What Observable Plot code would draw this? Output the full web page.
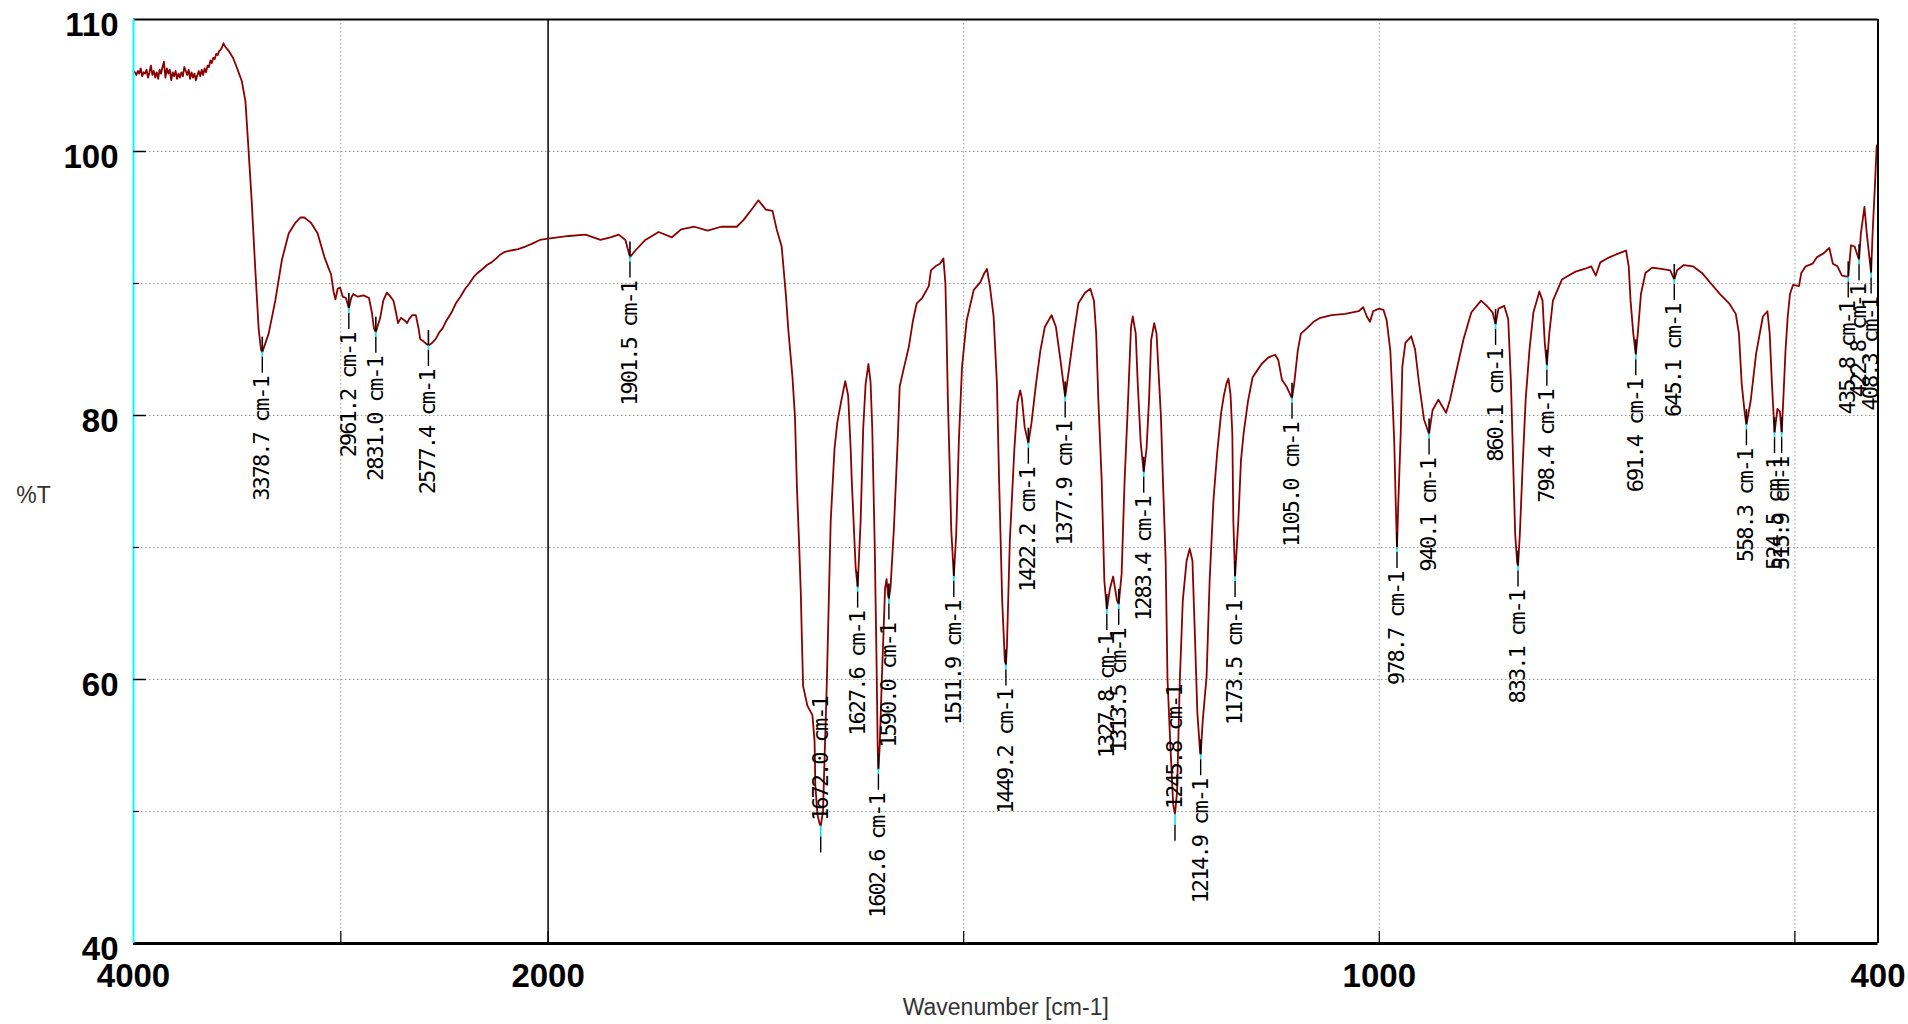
<!DOCTYPE html>
<html>
<head>
<meta charset="utf-8">
<script src="https://cdn.jsdelivr.net/npm/d3@7"></script>
<script src="https://cdn.jsdelivr.net/npm/@observablehq/plot@0.6"></script>
<style>
html, body { margin: 0; padding: 0; background: #fff; }
g[font-family="DejaVu Sans Mono"] text { letter-spacing: -2px; }
</style>
</head>
<body>
<div id="chart"></div>
<script>
// ---- spectrum (wavenumber cm-1, %T) ----
const wavenumber = [
  4000, 3993, 3986, 3979, 3972, 3965, 3958, 3951, 3944, 3937, 3930, 3923, 3916, 3909, 3902, 3895, 3888, 3881, 3874, 3867,
  3860, 3853, 3846, 3839, 3832, 3825, 3818, 3811, 3804, 3797, 3790, 3783, 3776, 3769, 3762, 3755, 3748, 3741, 3734, 3727,
  3720, 3713, 3706, 3699, 3692, 3685, 3678, 3671, 3664, 3657, 3650, 3643, 3636, 3629, 3622, 3615, 3608, 3601, 3594, 3587,
  3580, 3573, 3566, 3560, 3555,
  3540, 3520, 3500, 3477, 3460, 3445, 3430,
  3413, 3396, 3385, 3378.7, 3370, 3348, 3316, 3284, 3251, 3219, 3195, 3176, 3160, 3144, 3112, 3079, 3060, 3047, 3035, 3026,
  3015, 3004, 2990, 2975, 2961.2, 2950, 2940, 2918, 2890, 2864, 2850, 2840, 2831.0, 2820, 2810, 2795, 2778, 2760, 2746, 2735,
  2724, 2710, 2692, 2680, 2671, 2655, 2638, 2625, 2617, 2600, 2585, 2577.4, 2560, 2542, 2525, 2509, 2490, 2466, 2445, 2423,
  2400, 2380, 2359, 2340, 2316, 2295, 2273, 2250, 2230, 2208, 2180, 2144, 2110, 2079, 2040, 2000, 1975, 1955, 1937, 1925,
  1915, 1907, 1901.5, 1895, 1883, 1867, 1851, 1840, 1824, 1808, 1792, 1773, 1765, 1754, 1747, 1738, 1730, 1725, 1719, 1714,
  1711, 1706, 1703, 1700.6, 1697.8, 1696, 1694.6, 1693.2, 1688, 1682, 1679.4, 1678.5, 1676, 1673.5, 1672.0, 1669.3, 1664.6, 1662.3, 1660, 1655.4,
  1652, 1647, 1642.5, 1639, 1636, 1634.7, 1630, 1627.6, 1624, 1620.9, 1618, 1614.6, 1612, 1610, 1607, 1605, 1603.5, 1602.6, 1601, 1598.5,
  1596.5, 1594.6, 1592.8, 1591, 1590.0, 1588, 1584, 1579.4, 1577, 1571.6, 1566, 1561, 1556.5, 1550, 1542, 1539.4, 1534, 1528.6, 1524.4, 1522,
  1520.6, 1519, 1516.8, 1515, 1511.9, 1509, 1505.8, 1503.5, 1502, 1496.4, 1488, 1480, 1475, 1472, 1468.5, 1464, 1460, 1457.4, 1453.7, 1450.5,
  1449.2, 1448, 1444.5, 1439, 1435.3, 1432, 1430, 1426.6, 1422.2, 1418.5, 1413, 1407.8, 1402.4, 1394.3, 1389, 1383.6, 1377.9, 1374, 1367.5, 1362,
  1354, 1347.6, 1343.3, 1340.6, 1338, 1334, 1330.8, 1327.8, 1324, 1320.2, 1315.6, 1313.5, 1310, 1306.4, 1303, 1298.7, 1296.6, 1293, 1290.6, 1287,
  1283.4, 1280, 1277, 1274.5, 1270.8, 1268, 1262.7, 1260.3, 1257, 1254.8, 1251, 1247.9, 1245.8, 1243.3, 1240, 1236.4, 1231.8, 1228.1, 1224.8, 1221.6,
  1218.9, 1215.6, 1214.9, 1212.4, 1207.8, 1204.1, 1199.5, 1195, 1190.3, 1187, 1184, 1181.5, 1179, 1176.8, 1175.6, 1173.5, 1169.6, 1166.4, 1163.3, 1157.9,
  1152.4, 1147, 1141.6, 1133.4, 1125.3, 1121.5, 1117.1, 1111.7, 1105.0, 1102.4, 1098.1, 1094.3, 1087.2, 1079.1, 1071, 1057.3, 1041, 1024.8, 1019.3, 1015,
  1011.2, 1007.4, 1000.3, 994.9, 991.1, 986.7, 984, 982, 980.3, 978.7, 977, 974.2, 972.3, 968.6, 961.6, 956.9, 952.3, 946.2, 940.1, 935.9,
  928.9, 924.3, 919.6, 914.9, 907.9, 898.6, 889.3, 877.6, 870.6, 863.6, 860.1, 856.6, 849.6, 844.9, 841.6, 838.8, 836.5, 834.2, 833.1, 830.9,
  827.6, 823.9, 819.3, 814.6, 810, 807.4, 803.6, 800.9, 798.4, 795.5, 791.1, 785.7, 780.3, 772.1, 763.9, 753.1, 745, 739.5, 734.1, 725.9,
  715.1, 707, 703.1, 699.9, 697.7, 694.4, 691.4, 689, 685.2, 679.8, 671.6, 660.7, 649.9, 645.1, 641.7, 633.6, 622.7, 611.8, 601, 590.1,
  579.2, 571.1, 567.3, 564, 560.2, 558.3, 553.2, 546.6, 538.5, 533, 530.3, 527.6, 524.5, 521, 518, 515.9, 514, 511.3, 508.6, 505.9,
  502.1, 495, 492.3, 486.9, 478.7, 473.3, 465.1, 458.6, 454.3, 448.8, 443.4, 435.8, 432.5, 428.2, 422.8, 420.6, 416.3, 413.5, 408.3, 406.5,
  403.8, 401.6, 400
];
const transmittance = [
  106.1, 106.0, 105.8, 106.1, 105.9, 106.3, 105.7, 106.0, 105.9, 106.2, 105.6, 106.0, 106.5, 105.8, 106.1, 105.6, 106.0, 105.5, 106.2, 105.9,
  106.4, 106.8, 105.6, 106.3, 105.9, 106.2, 105.4, 106.0, 105.7, 106.1, 105.5, 105.9, 105.6, 106.0, 105.7, 106.4, 106.1, 105.8, 106.2, 105.5,
  106.0, 105.6, 105.9, 105.4, 105.8, 106.1, 105.7, 106.2, 105.8, 106.3, 106.0, 106.5, 106.4, 106.9, 106.7, 107.1, 107.0, 107.4, 107.3, 107.6,
  107.7, 107.9, 108.2, 108.0, 107.9,
  107.6, 107.1, 106.3, 105.3, 103.8, 100.1, 96.3,
  91.2, 86.5, 85.0, 84.8, 85.2, 86.2, 88.7, 91.8, 93.8, 94.6, 95.0, 95.0, 94.8, 94.6, 93.8, 92.0, 91.2, 90.7, 89.4, 88.8,
  89.6, 89.7, 89.0, 88.9, 88.1, 88.9, 89.2, 89.0, 89.1, 88.9, 87.8, 86.6, 86.3, 86.9, 87.4, 88.7, 89.3, 89.0, 88.7, 87.9,
  87.0, 87.4, 87.2, 87.0, 87.3, 87.6, 87.6, 86.6, 85.8, 85.6, 85.4, 85.3, 85.5, 85.8, 86.3, 86.6, 87.2, 87.8, 88.5, 89.0,
  89.6, 90.0, 90.5, 90.8, 91.1, 91.4, 91.6, 91.9, 92.2, 92.4, 92.5, 92.6, 92.8, 93.0, 93.3, 93.4, 93.6, 93.7, 93.3, 93.5,
  93.7, 93.3, 92.0, 92.5, 93.3, 93.9, 93.5, 94.1, 94.3, 94.0, 94.3, 94.3, 94.8, 95.7, 96.3, 95.6, 95.5, 94.1, 92.8, 89.2,
  86.5, 82.9, 79.9, 74.5, 69.9, 66.6, 62.9, 59.5, 58.0, 57.3, 55.3, 52.0, 49.8, 49.1, 48.9, 50.0, 59.9, 66.0, 72.0, 77.5,
  79.5, 81.2, 82.6, 81.5, 77.5, 75.1, 68.5, 67.0, 72.0, 79.0, 82.4, 83.9, 82.5, 79.0, 70.0, 62.0, 55.0, 53.2, 55.0, 60.0,
  63.5, 66.9, 67.6, 66.4, 66.1, 67.0, 71.4, 78.1, 82.2, 83.7, 85.2, 87.2, 88.5, 88.9, 89.8, 91.0, 91.3, 91.5, 91.9, 90.0,
  86.2, 81.1, 76.0, 71.4, 67.8, 71.0, 78.1, 81.5, 83.7, 87.2, 89.5, 90.1, 90.8, 91.1, 89.8, 87.5, 82.4, 75.1, 66.0, 61.4,
  61.1, 62.5, 70.5, 77.5, 81.0, 81.9, 81.3, 79.1, 77.9, 79.4, 82.4, 84.9, 86.7, 87.6, 86.7, 84.2, 81.4, 83.2, 86.2, 88.5,
  89.3, 89.6, 88.7, 86.2, 81.2, 75.1, 67.5, 65.3, 66.9, 67.8, 66.0, 65.7, 68.0, 75.1, 80.0, 86.7, 87.5, 86.2, 82.4, 77.9,
  75.7, 77.5, 81.2, 85.7, 87.0, 86.2, 79.9, 75.1, 69.0, 60.0, 54.5, 50.5, 49.8, 51.5, 59.9, 66.0, 69.0, 69.9, 69.0, 62.9,
  57.5, 54.5, 54.3, 56.9, 60.2, 67.5, 73.6, 77.2, 80.2, 81.5, 82.4, 82.8, 81.6, 78.6, 72.0, 67.8, 72.0, 76.6, 78.6, 81.1,
  82.9, 83.4, 83.9, 84.4, 84.6, 84.2, 82.7, 82.2, 81.3, 82.4, 84.9, 86.2, 86.6, 87.1, 87.4, 87.6, 87.7, 87.9, 88.2, 87.5,
  87.1, 87.9, 88.1, 88.0, 87.2, 84.9, 81.1, 78.0, 73.6, 70.0, 73.6, 78.7, 83.7, 85.5, 86.0, 85.0, 82.5, 79.7, 78.6, 80.4,
  81.2, 80.7, 80.2, 81.2, 83.2, 85.8, 87.8, 88.7, 88.3, 87.8, 86.9, 88.1, 88.3, 87.3, 82.5, 76.1, 71.0, 68.9, 68.6, 71.0,
  76.1, 81.2, 85.0, 87.8, 88.8, 89.4, 88.7, 85.5, 83.8, 86.2, 88.7, 89.5, 90.3, 90.6, 90.9, 91.1, 91.3, 90.6, 91.6, 91.9,
  92.2, 92.4, 92.5, 91.3, 88.7, 86.2, 84.6, 86.2, 89.2, 90.8, 91.2, 91.1, 91.0, 90.3, 91.0, 91.4, 91.3, 90.8, 90.0, 89.2,
  88.5, 87.7, 86.2, 82.4, 80.1, 79.3, 81.1, 84.7, 87.5, 87.9, 86.2, 82.4, 78.7, 80.5, 80.3, 78.7, 81.1, 84.9, 87.5, 89.2,
  89.9, 89.8, 90.8, 91.3, 91.5, 92.0, 92.3, 92.7, 91.5, 91.3, 90.6, 90.5, 92.9, 92.8, 91.8, 93.8, 95.8, 93.8, 90.8, 93.8,
  97.3, 100.4, 100.6
];

// ---- annotated peaks ----
const peakWavenumbers = [
  3378.7, 2961.2, 2831.0, 2577.4, 1901.5, 1627.6, 1602.6, 1590.0, 1511.9, 1449.2, 1422.2, 1377.9,
  1327.8, 1313.5, 1283.4, 1214.9, 1173.5, 1105.0, 978.7, 940.1, 860.1, 833.1, 798.4, 691.4,
  645.1, 558.3, 524.5, 515.9, 435.8, 422.8, 408.3
];
const peakTransmittance = [
  84.8, 88.1, 86.3, 85.3, 92.0, 67.0, 53.2, 66.1, 67.8, 61.1, 77.9, 81.4,
  65.3, 65.7, 75.7, 54.3, 67.8, 81.3, 70.0, 78.6, 86.9, 68.6, 83.8, 84.6,
  90.3, 79.3, 78.7, 78.7, 90.5, 91.8, 90.8
];
// peaks whose label is written upward from the band (near the bottom)
const upPeakWavenumbers = [1672.0, 1245.8];
const upPeakTransmittance = [48.9, 49.8];

// ---- axes ----
const xTickLabels = [4000, 2000, 1000, 400];
const xGridValues = [3000, 1500, 1000, 500];
const xSplit = [2000];
const xBottomTicks = [3000, 2000, 1500, 1000, 500];
const yTickLabels = [110, 100, 80, 60];
const yBottomLabel = [40];
const yGridValues = [100, 90, 80, 70, 60, 50];
const yMajorTicks = [100, 80, 60];
const yMinorTicks = [90, 70, 50];
const xTitle = "Wavenumber [cm-1]";
const yTitle = "%T";

const spectrum = wavenumber.map((w, i) => ({w, t: transmittance[i]}));
const peaks = peakWavenumbers.map((w, i) => ({w, t: peakTransmittance[i]}));
const upPeaks = upPeakWavenumbers.map((w, i) => ({w, t: upPeakTransmittance[i]}));
const label = (d) => `${d.w.toFixed(1)} cm-1`;

const W = 1908, H = 1024;
const mL = 133, mR = 30.5, mT = 19, mB = 81;
const xBreak = 547.6; // screen position of the 2000 cm-1 scale change

const gridStyle = {stroke: "#9a9a9a", strokeOpacity: 1, strokeWidth: 1, strokeDasharray: "1.5,2.5"};
const markFont = {fontFamily: "DejaVu Sans Mono", fontSize: 22, fill: "#000", rotate: -90};
const axisFont = {fontFamily: "Liberation Sans", fontSize: 33, fontWeight: "bold", fill: "#000"};

const chart = Plot.plot({
  width: W, height: H,
  marginLeft: mL, marginRight: mR, marginTop: mT, marginBottom: mB,
  x: {type: "linear", domain: [4000, 2000, 400], range: [mL, xBreak, W - mR], axis: null},
  y: {type: "linear", domain: [40, 110], axis: null},
  style: {background: "#fff", overflow: "visible"},
  marks: [
    Plot.ruleY(yGridValues, {y: d => d, ...gridStyle}),
    Plot.ruleX(xGridValues, {x: d => d, ...gridStyle}),
    Plot.ruleX(xSplit, {x: d => d, stroke: "#000", strokeWidth: 1.5}),

    Plot.line(spectrum, {x: "w", y: "t", stroke: "#8b0000", strokeWidth: 1.8}),

    // peak markers: dark stroke over the band, cyan leader, dash before the label
    Plot.ruleX(peaks, {x: "w", y1: "t", y2: "t", insetTop: -15, insetBottom: 0, stroke: "#000", strokeWidth: 1.6}),
    Plot.ruleX(peaks, {x: "w", y1: "t", y2: "t", insetTop: 0, insetBottom: -5, stroke: "#00e5ff", strokeWidth: 1.6}),
    Plot.ruleX(peaks, {x: "w", y1: "t", y2: "t", insetTop: 5, insetBottom: -21, stroke: "#000", strokeWidth: 1.4}),
    Plot.text(peaks, {x: "w", y: "t", text: label, textAnchor: "end", dy: 25, ...markFont}),

    Plot.ruleX(upPeaks, {x: "w", y1: "t", y2: "t", insetTop: 0, insetBottom: -11, stroke: "#00e5ff", strokeWidth: 1.6}),
    Plot.ruleX(upPeaks, {x: "w", y1: "t", y2: "t", insetTop: 11, insetBottom: -27, stroke: "#000", strokeWidth: 1.4}),
    Plot.text(upPeaks, {x: "w", y: "t", text: label, textAnchor: "start", dy: -5, ...markFont}),

    // frame
    Plot.ruleY([110], {y: d => d, stroke: "#000", strokeWidth: 2}),
    Plot.ruleY([40], {y: d => d, stroke: "#000", strokeWidth: 3}),
    Plot.ruleX([400], {x: d => d, stroke: "#000", strokeWidth: 2}),
    Plot.ruleX([4000], {x: d => d, stroke: "#00ffff", strokeWidth: 2}),

    // ticks
    Plot.ruleY(yMajorTicks, {y: d => d, x1: 4000, x2: 4000, insetLeft: 0, insetRight: -13, stroke: "#000", strokeWidth: 1.5}),
    Plot.ruleY(yMinorTicks, {y: d => d, x1: 4000, x2: 4000, insetLeft: 0, insetRight: -6, stroke: "#000", strokeWidth: 1.2}),
    Plot.ruleX(xBottomTicks, {x: d => d, y1: 40, y2: 40, insetTop: -12, insetBottom: 0, stroke: "#000", strokeWidth: 1.2}),

    // tick labels and titles
    Plot.text(yTickLabels, {y: d => d, text: d => String(d), frameAnchor: "left", lineAnchor: "middle", textAnchor: "end", dx: -15, dy: 6, ...axisFont}),
    Plot.text(yBottomLabel, {y: d => d, text: d => String(d), frameAnchor: "left", lineAnchor: "bottom", textAnchor: "end", dx: -15, dy: 16, ...axisFont}),
    Plot.text(xTickLabels, {x: d => d, text: d => String(d), frameAnchor: "bottom", lineAnchor: "top", textAnchor: "middle", dy: 20, ...axisFont}),
    Plot.text([xTitle], {text: d => d, frameAnchor: "bottom", lineAnchor: "middle", dy: 64, fontFamily: "Liberation Sans", fontSize: 23, fill: "#333"}),
    Plot.text([yTitle], {text: d => d, frameAnchor: "left", lineAnchor: "middle", dx: -100, dy: 14, textAnchor: "middle", fontFamily: "Liberation Sans", fontSize: 23, fill: "#333"})
  ]
});
document.getElementById("chart").appendChild(chart);
</script>
</body>
</html>
